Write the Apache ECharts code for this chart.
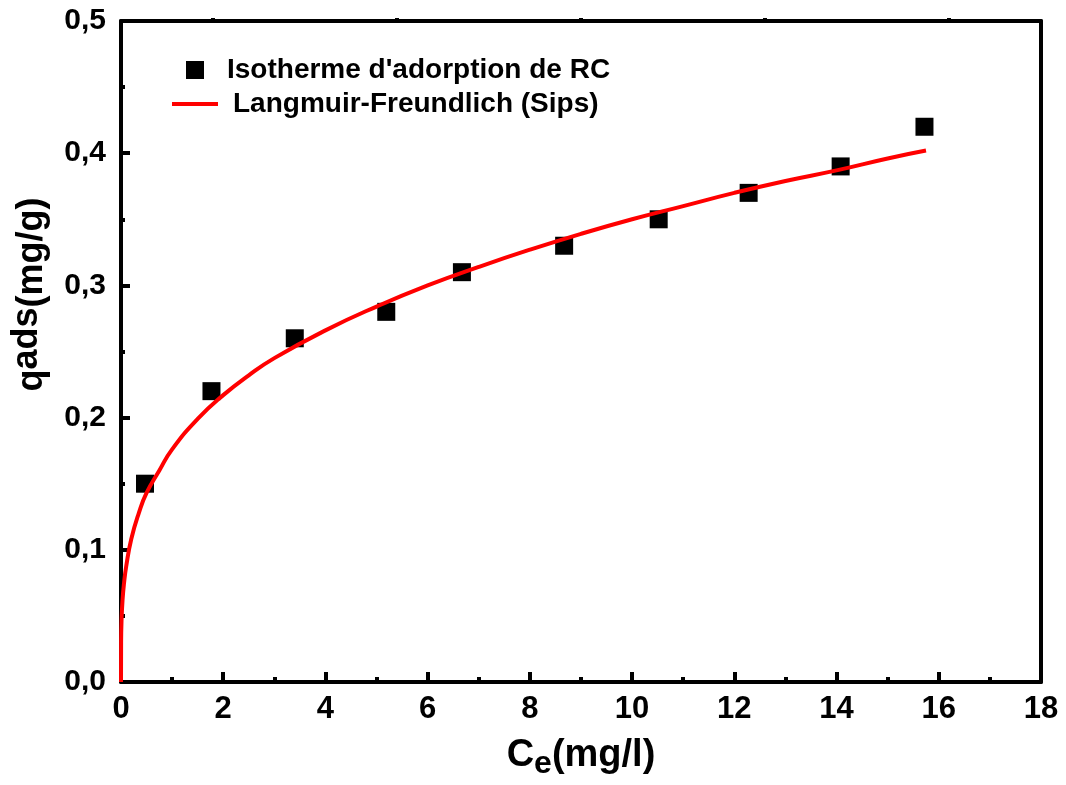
<!DOCTYPE html>
<html>
<head>
<meta charset="utf-8">
<script src="https://cdn.jsdelivr.net/npm/echarts@6/dist/echarts.min.js"></script>
<style>
  html, body { margin: 0; padding: 0; background: #fff; }
  #chart { width: 1066px; height: 785px; }
</style>
</head>
<body>
<div id="chart"></div>
<script>
// Measured adsorption isotherm (Ce in mg/l, q in mg/g)
const ceData = [0.47, 1.77, 3.40, 5.19, 6.67, 8.67, 10.52, 12.28, 14.08, 15.72];
const qData  = [0.15, 0.22, 0.26, 0.28, 0.31, 0.33, 0.35, 0.37, 0.39, 0.42];

// Langmuir-Freundlich (Sips) fitted curve
const fitCe = [0, 0.002, 0.01, 0.03, 0.06, 0.1, 0.2, 0.35, 0.5, 0.75, 1.0, 1.5, 2.0, 2.5, 3, 4, 5, 6, 7, 8, 9, 10, 11, 12, 13, 14, 15, 15.75];
const fitQ  = [0, 0.030, 0.046, 0.062, 0.075, 0.087, 0.108, 0.128, 0.143, 0.160, 0.176, 0.199, 0.217, 0.232, 0.245, 0.266, 0.284, 0.300, 0.314, 0.327, 0.339, 0.350, 0.360, 0.370, 0.379, 0.387, 0.396, 0.402];

const xTickLabels = ['0', '2', '4', '6', '8', '10', '12', '14', '16', '18'];
const yTickLabels = ['0,0', '0,1', '0,2', '0,3', '0,4', '0,5'];

const seriesNames = ["Isotherme d'adorption de RC", 'Langmuir-Freundlich (Sips)'];

const FONT = 'Liberation Sans, Arial, sans-serif';
const chart = echarts.init(document.getElementById('chart'), null, { renderer: 'canvas' });

const frameLine = () => ({ show: true, onZero: false, lineStyle: { color: '#000', width: 4 } });

chart.setOption({
  animation: false,
  backgroundColor: '#fff',
  grid: { left: 121, top: 21, right: 25, bottom: 96, containLabel: false },
  legend: [
    {
      data: [{ name: seriesNames[0], icon: 'rect' }],
      left: 186, top: 56, padding: 0,
      itemWidth: 18, itemHeight: 18, itemGap: 0,
      textStyle: { fontFamily: FONT, fontWeight: 'bold', fontSize: 28, color: '#000', padding: [0, 0, 0, 18] }
    },
    {
      data: [{ name: seriesNames[1], icon: 'rect' }],
      left: 172, top: 90, padding: 0,
      itemWidth: 46, itemHeight: 4, itemGap: 0,
      textStyle: { fontFamily: FONT, fontWeight: 'bold', fontSize: 28, color: '#000', padding: [0, 0, 0, 10] }
    }
  ],
  xAxis: [
    {
      type: 'value', min: 0, max: 18, interval: 2, position: 'bottom',
      axisLine: frameLine(),
      axisTick: { show: true, inside: true, interval: 0, length: 10, lineStyle: { color: '#000', width: 4 } },
      minorTick: { show: true, splitNumber: 2, length: 5, lineStyle: { color: '#000', width: 4 } },
      splitLine: { show: false },
      axisLabel: {
        margin: 12, color: '#000', fontSize: 31, fontWeight: 'bold', fontFamily: FONT,
        formatter: (v) => xTickLabels[Math.round(v / 2)]
      },
      name: '{a|C}{b|e}{a|(mg/l)}',
      nameLocation: 'middle', nameGap: 50,
      nameTextStyle: {
        rich: {
          a: { fontSize: 38, fontWeight: 'bold', color: '#000', fontFamily: FONT },
          b: { fontSize: 32, fontWeight: 'bold', color: '#000', fontFamily: FONT, verticalAlign: 'top', padding: [16, 0, 0, 0] }
        }
      }
    },
    {
      type: 'value', min: 0, max: 10, interval: 2, position: 'top',
      axisLine: frameLine(),
      axisTick: { show: false },
      minorTick: { show: true, splitNumber: 2, length: 3, lineStyle: { color: '#000', width: 4 } },
      splitLine: { show: false },
      axisLabel: { show: false }
    }
  ],
  yAxis: [
    {
      type: 'value', min: 0, max: 0.5, interval: 0.1, position: 'left',
      axisLine: frameLine(),
      axisTick: { show: true, inside: true, interval: 0, length: 9, lineStyle: { color: '#000', width: 4 } },
      minorTick: { show: true, splitNumber: 2, length: 4, lineStyle: { color: '#000', width: 4 } },
      splitLine: { show: false },
      axisLabel: {
        margin: 15, color: '#000', fontSize: 30, fontWeight: 'bold', fontFamily: FONT,
        formatter: (v) => yTickLabels[Math.round(v * 10)]
      },
      // leading spacer lifts the rotated title above the grid's middle
      name: '{s|}{a|q}{b|ads}{a|(mg/g)}',
      nameLocation: 'middle', nameGap: 71, nameRotate: 90,
      nameTextStyle: {
        rich: {
          a: { fontSize: 36, fontWeight: 'bold', color: '#000', fontFamily: FONT, verticalAlign: 'top', padding: [5, 0, 0, 0] },
          b: { fontSize: 36, fontWeight: 'bold', color: '#000', fontFamily: FONT, verticalAlign: 'top', padding: [0, 0, 0, 0] },
          s: { width: 114, fontSize: 36 }
        }
      }
    },
    {
      type: 'value', min: 0, max: 0.5, position: 'right',
      axisLine: frameLine(),
      axisTick: { show: false }, splitLine: { show: false }, axisLabel: { show: false }
    }
  ],
  series: [
    {
      name: seriesNames[0],
      type: 'scatter',
      symbol: 'rect', symbolSize: 18,
      itemStyle: { color: '#000', opacity: 1 },
      data: ceData.map((x, i) => [x, qData[i]]),
      z: 3
    },
    {
      name: seriesNames[1],
      type: 'line',
      smooth: true, showSymbol: false, symbol: 'none',
      lineStyle: { color: '#ff0000', width: 4 },
      itemStyle: { color: '#ff0000' },
      data: fitCe.map((x, i) => [x, fitQ[i]]),
      z: 4
    }
  ]
});
</script>
</body>
</html>
